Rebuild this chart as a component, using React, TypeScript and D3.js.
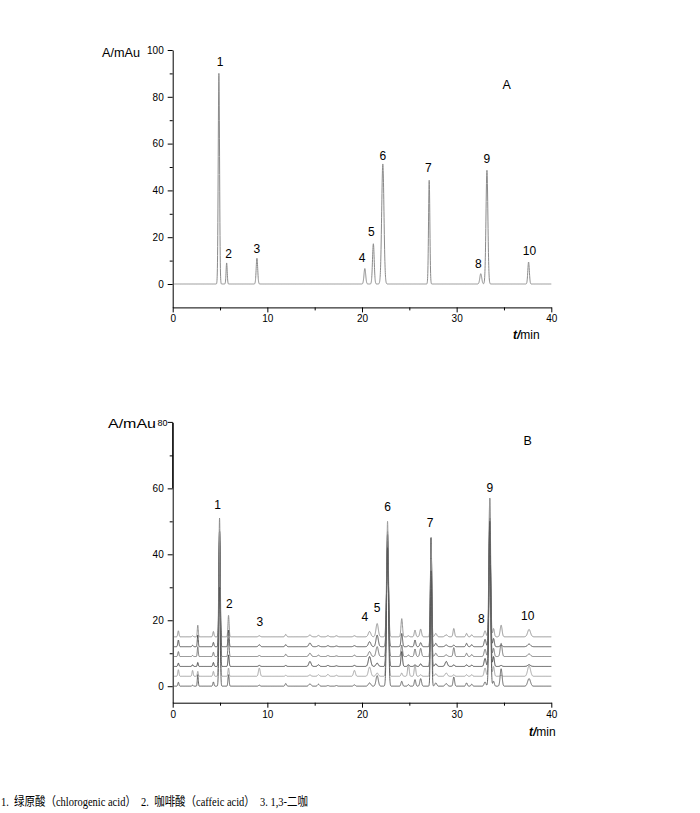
import React, { useEffect, useRef } from 'react';
import * as d3 from 'd3';

// Chart A (standard mix): retention time (min), height (mAu), peak sigma (min)
const stdTimes = [4.88, 5.7, 8.9, 20.3, 21.2, 22.2, 27.1, 32.55, 33.2, 37.6];
const stdHeights = [90, 9, 11, 6.6, 17.2, 51.3, 44.3, 4.4, 48.6, 9.4];
const stdWidths = [0.07, 0.06, 0.08, 0.09, 0.09, 0.12, 0.07, 0.1, 0.1, 0.08];

// peak number labels for A, anchored in data units
const labelTextA = ['1', '2', '3', '4', '5', '6', '7', '8', '9', '10'];
const labelTimeA = [5.0, 5.9, 8.9, 20.0, 21.0, 22.2, 27.0, 32.3, 33.2, 37.7];
const labelValA = [95, 13.1, 15, 11.2, 22.4, 54.7, 49.7, 8.7, 53.7, 14.4];

// Chart B (six samples, stacked): shared peak times and widths
const sampleTimes = [0.6, 2.1, 2.65, 4.3, 4.95, 5.9, 9.15, 11.95, 14.5, 15.4, 16.4, 17.3, 19.2, 20.8, 21.6, 22.7, 24.2, 24.9, 25.6, 26.2, 27.3, 27.8, 28.9, 29.7, 31.05, 31.6, 33.0, 33.5, 33.9, 34.7, 37.65];
const sampleWidths = [0.06, 0.06, 0.05, 0.06, 0.07, 0.06, 0.09, 0.08, 0.12, 0.1, 0.1, 0.1, 0.1, 0.13, 0.12, 0.1, 0.08, 0.08, 0.08, 0.09, 0.07, 0.1, 0.12, 0.08, 0.08, 0.08, 0.1, 0.09, 0.08, 0.1, 0.15];
const sampleOffsets = [0, 3, 6, 9, 12, 15];
const sampleColors = ['#555', '#999', '#333', '#666', '#444', '#888'];
// heights per sample (offset 0, 3, 6, 9, 12, 15), one row per sample
const sampleHeights = [
  [1.2, 0.3, 3.5, 1.3, 30, 3.5, 0.3, 0.8, 0.7, 0.6, 0.2, 0.2, 0.4, 1.0, 3.2, 42, 1.5, 0.5, 2.0, 2.3, 35, 1.0, 0.8, 2.8, 1.0, 0.6, 1.3, 50, 1.5, 5.3, 2.3],
  [2.0, 1.8, 1.5, 1.5, 44, 2.5, 2.5, 0.3, 0.4, 0.5, 0.6, 0.3, 1.8, 2.8, 1.0, 47, 1.0, 3.7, 3.5, 0.5, 42, 0.8, 1.0, 0.5, 0.5, 0.5, 2.5, 54, 3.0, 0.3, 3.2],
  [1.0, 0.5, 1.2, 1.2, 41, 3.5, 0.3, 0.3, 1.5, 0.5, 0.3, 0.2, 0.3, 3.0, 1.0, 40, 4.5, 0.5, 0.5, 0.8, 39, 0.8, 1.5, 0.5, 0.5, 0.4, 2.4, 45, 3.0, 0.3, 0.5],
  [1.5, 0.3, 3.0, 1.3, 38, 5.5, 0.3, 0.7, 1.0, 0.4, 0.3, 0.2, 0.4, 1.5, 3.0, 35, 3.5, 0.5, 2.3, 2.5, 30, 1.0, 0.5, 2.7, 1.0, 0.6, 2.2, 40, 2.5, 4.0, 0.8],
  [2.0, 0.4, 3.5, 1.3, 32, 5.0, 0.6, 0.6, 1.1, 0.3, 0.3, 0.2, 0.3, 1.5, 3.5, 30, 4.0, 0.3, 2.0, 1.2, 33, 1.0, 0.5, 0.5, 1.0, 0.6, 2.2, 35, 2.5, 0.5, 0.8],
  [1.8, 0.3, 3.5, 1.6, 36, 6.5, 0.3, 0.7, 0.5, 0.4, 0.3, 0.3, 0.3, 1.6, 4.0, 32, 5.5, 0.3, 2.0, 2.3, 28, 1.0, 0.6, 2.5, 1.0, 0.6, 1.8, 42, 2.5, 3.5, 2.2],
];

const labelTextB = ['1', '2', '3', '4', '5', '6', '7', '8', '9', '10'];
const labelTimeB = [4.75, 5.98, 9.2, 20.3, 21.6, 22.7, 27.2, 32.6, 33.5, 37.5];
const labelValB = [55.2, 24.9, 19.5, 21.2, 23.8, 54.3, 49.5, 20.5, 60.3, 21.3];

const yTicksA = [0, 20, 40, 60, 80, 100];
const yMinorA = [10, 30, 50, 70, 90];
const yTicksB = [0, 20, 40, 60];
const yMinorB = [10, 30, 50, 70];
const xTicks = [0, 10, 20, 30, 40];
const xMinor = [5, 15, 25, 35];

const note = '1.  绿原酸（chlorogenic acid）  2.  咖啡酸（caffeic acid）  3. 1,3-二咖';

const SANS = "'Liberation Sans', Arial, sans-serif";

function trace(times: number[], heights: number[], widths: number[], offset: number): [number, number][] {
  const grid = d3.range(0.15, 40.0001, 0.01);
  return grid.map(t => {
    let v = offset;
    times.forEach((c, i) => {
      const z = (t - c) / widths[i];
      if (Math.abs(z) < 6) v += heights[i] * Math.exp(-0.5 * z * z);
    });
    return [t, v];
  });
}

export default function App() {
  const ref = useRef<SVGSVGElement>(null);

  useEffect(() => {
    if (!ref.current) return;
    const svg = d3.select(ref.current);
    svg.selectAll('*').remove();

    const drawAxes = (
      x: d3.ScaleLinear<number, number>,
      y: d3.ScaleLinear<number, number>,
      yMajor: number[],
      yMinor: number[]
    ) => {
      const [y0] = y.range();
      const x0 = x.range()[0];
      const g = svg.append('g').attr('font-family', SANS);
      g.append('g')
        .attr('transform', `translate(0,${y0})`)
        .call(d3.axisBottom(x).tickValues(xTicks).tickSize(5).tickSizeOuter(0).tickPadding(3))
        .call(a => a.selectAll('text').attr('font-size', 10).attr('font-family', SANS));
      g.append('g')
        .attr('transform', `translate(0,${y0})`)
        .call(d3.axisBottom(x).tickValues(xMinor).tickSize(3).tickFormat(() => ''))
        .call(a => a.select('.domain').remove());
      g.append('g')
        .attr('transform', `translate(${x0},0)`)
        .call(d3.axisLeft(y).tickValues(yMajor).tickSize(5).tickSizeOuter(0).tickPadding(4))
        .call(a => a.selectAll('text').attr('font-size', 10).attr('font-family', SANS));
      g.append('g')
        .attr('transform', `translate(${x0},0)`)
        .call(d3.axisLeft(y).tickValues(yMinor).tickSize(3).tickFormat(() => ''))
        .call(a => a.select('.domain').remove());
      g.selectAll('line, path').attr('stroke', '#000').attr('stroke-width', 1);
    };

    const peakLabels = (
      x: d3.ScaleLinear<number, number>,
      y: d3.ScaleLinear<number, number>,
      text: string[], times: number[], vals: number[]
    ) => {
      svg.append('g')
        .attr('font-family', SANS)
        .attr('font-size', 12)
        .attr('text-anchor', 'middle')
        .selectAll('text')
        .data(text)
        .join('text')
        .attr('x', (_, i) => x(times[i]))
        .attr('y', (_, i) => y(vals[i]))
        .attr('dy', '0.36em')
        .text(d => d);
    };

    const axisTitles = (yLabelX: number, yLabelY: number, yLen: number, tX: number, tY: number, panel: string, pX: number, pY: number) => {
      svg.append('text').attr('x', yLabelX).attr('y', yLabelY)
        .attr('font-family', SANS).attr('font-size', 12.5)
        .attr('textLength', yLen).attr('lengthAdjust', 'spacingAndGlyphs')
        .text('A/mAu');
      const t = svg.append('text').attr('x', tX).attr('y', tY)
        .attr('font-family', SANS).attr('font-size', 12);
      t.append('tspan').attr('font-style', 'italic').attr('font-weight', 'bold').text('t/');
      t.append('tspan').text('min');
      svg.append('text').attr('x', pX).attr('y', pY)
        .attr('font-family', SANS).attr('font-size', 12.5)
        .attr('text-anchor', 'middle').text(panel);
    };

    // ---- Chart A ----
    const xA = d3.scaleLinear().domain([0, 40]).range([172.7, 551.3]);
    const yA = d3.scaleLinear().domain([-10, 100]).range([307.4, 50]);
    drawAxes(xA, yA, yTicksA, yMinorA);
    const line = d3.line<[number, number]>();
    svg.append('path')
      .attr('d', line.x(d => xA(d[0])).y(d => yA(d[1]))(trace(stdTimes, stdHeights, stdWidths, 0)))
      .attr('fill', 'none').attr('stroke', '#8a8a8a').attr('stroke-width', 1);
    peakLabels(xA, yA, labelTextA, labelTimeA, labelValA);
    axisTitles(102, 57, 38, 513, 339, 'A', 506.7, 88.5);

    // ---- Chart B ----
    const xB = d3.scaleLinear().domain([0, 40]).range([172.7, 551.3]);
    const yB = d3.scaleLinear().domain([-5, 80]).range([702.7, 422.4]);
    drawAxes(xB, yB, yTicksB, yMinorB);
    // small "80" squeezed next to the unit label, as in the source
    svg.append('line').attr('x1', 172.7 - 5).attr('x2', 172.7).attr('y1', yB(80)).attr('y2', yB(80))
      .attr('stroke', '#000');
    svg.append('text').attr('x', 167.5).attr('y', yB(80)).attr('dy', '0.35em')
      .attr('text-anchor', 'end').attr('font-family', SANS).attr('font-size', 9).text('80');
    svg.append('line').attr('x1', 172.7).attr('x2', 172.7).attr('y1', yB(80)).attr('y2', yB(60))
      .attr('stroke', '#000');
    const lineB = d3.line<[number, number]>().x(d => xB(d[0])).y(d => yB(d[1]));
    svg.append('g')
      .selectAll('path')
      .data(sampleOffsets.map((o, k) => ({ o, k })).reverse())
      .join('path')
      .attr('d', d => lineB(trace(sampleTimes, sampleHeights[d.k], sampleWidths, d.o)))
      .attr('fill', 'none')
      .attr('stroke', d => sampleColors[d.k])
      .attr('stroke-width', 0.9);
    peakLabels(xB, yB, labelTextB, labelTimeB, labelValB);
    axisTitles(108, 427.5, 48, 529, 736, 'B', 527.7, 444.5);

    // ---- footnote ----
    svg.append('text').attr('x', 1).attr('y', 806)
      .attr('font-family', "'Liberation Serif', 'Times New Roman', 'Noto Sans CJK SC', serif")
      .attr('font-size', 12.5)
      .attr('textLength', 307).attr('lengthAdjust', 'spacingAndGlyphs')
      .attr('xml:space', 'preserve')
      .style('white-space', 'pre')
      .text(note);
  }, []);

  return (
    <svg ref={ref} width={700} height={813}
      style={{ position: 'absolute', left: 0, top: 0, background: '#fff' }} />
  );
}
